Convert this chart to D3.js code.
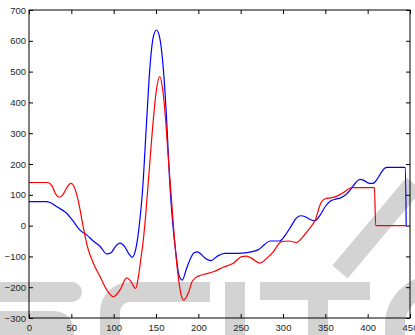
<!DOCTYPE html>
<html>
<head>
<meta charset="utf-8">
<script src="https://cdn.jsdelivr.net/npm/d3@7"></script>
<style>
  html, body { margin: 0; padding: 0; background: #fff; }
  svg { display: block; }
  .tick text { font-family: "Liberation Sans", Arial, sans-serif; font-size: 9.5px; fill: #262626; }
  .tick line { stroke: #000; }
</style>
</head>
<body>
<div id="chart"></div>
<script>
// x positions and values
const blueX = [0, 20, 25, 33, 44.5, 52, 60, 68, 76, 84, 92, 97, 102, 107.5, 113, 118, 122, 125, 128, 131, 134, 139, 143, 147, 150.5, 154, 158, 162.6, 166, 170, 174, 177, 181, 186, 191, 195, 199, 204, 209, 214.6, 222, 231, 245, 261, 271, 278, 284.6, 296, 303, 310, 316, 321, 327, 332, 337.8, 344, 350, 356, 362, 368, 374, 380, 386, 391, 396, 401, 406, 411, 416, 420, 423, 444.5, 445.5];
const blueY = [78, 78, 75, 61, 40, 15, -14, -30, -50, -68, -92, -88, -68, -57, -68, -92, -103, -88, -47, 20, 110, 343, 520, 615, 635, 615, 530, 343, 150, 0, -100, -160, -177, -140, -105, -88, -85, -95, -108, -114, -100, -90, -90, -86, -78, -62, -50, -50, -30, 0, 25, 32, 28, 20, 16, 35, 62, 80, 86, 90, 100, 118, 140, 150, 146, 138, 137, 150, 172, 186, 189, 189, 0];

const redX = [0, 22, 27, 31, 35.5, 40, 45, 49.5, 53, 58, 64, 69, 76, 84, 92, 99.6, 107.5, 115.4, 120, 126, 129, 132, 135, 138, 142, 146.8, 150, 154.5, 158, 161.4, 164, 168, 172, 176, 180, 183, 188, 193, 200, 207, 217.7, 229.5, 241.3, 251, 257, 264, 272.8, 280, 288.5, 298, 307, 316, 323, 330, 338, 345, 350, 356, 363, 370, 377, 381, 408, 409.5, 446];
const redY = [140, 140, 130, 105, 92, 100, 125, 137, 128, 83, -3, -68, -122, -166, -209, -231, -209, -170, -180, -204, -170, -110, -47, 40, 180, 343, 430, 484, 440, 343, 240, 95, -50, -160, -228, -242, -220, -180, -164, -158, -150, -135, -122, -101, -99, -108, -122, -108, -85, -52, -50, -55, -38, -14, 18, 75, 87, 90, 95, 105, 118, 123, 123, 0, 0];

const xTicks = [0, 50, 100, 150, 200, 250, 300, 350, 400, 450];
const yTicks = [-300, -200, -100, 0, 100, 200, 300, 400, 500, 600, 700];

const W = 415, H = 335;
const margin = { top: 10, right: 5, bottom: 17, left: 29 };

const svg = d3.select('#chart').append('svg')
  .attr('width', W).attr('height', H);

// background watermark (light grey letters)
const wm = svg.append('g').attr('fill', '#d3d3d3').attr('stroke', '#d3d3d3');
wm.append('rect').attr('x', -20).attr('y', 282).attr('width', 102).attr('height', 20).attr('rx', 10).attr('stroke', 'none');
wm.append('rect').attr('x', -20).attr('y', 311).attr('width', 94).attr('height', 50).attr('rx', 20).attr('stroke', 'none');
wm.append('path').attr('d', 'M210,292 H130 A20,20 0 0 0 110,312 V345').attr('fill', 'none').attr('stroke-width', 20);
wm.append('rect').attr('x', 225).attr('y', 282).attr('width', 20).attr('height', 60).attr('stroke', 'none');
wm.append('rect').attr('x', 260).attr('y', 282).attr('width', 110).attr('height', 18).attr('stroke', 'none');
wm.append('rect').attr('x', 308).attr('y', 282).attr('width', 20).attr('height', 60).attr('stroke', 'none');
wm.append('path').attr('d', 'M414,184 L340,272').attr('fill', 'none').attr('stroke-width', 20);
wm.append('path').attr('d', 'M395,345 V325 A40,40 0 0 1 435,285').attr('fill', 'none').attr('stroke-width', 20);

const x = d3.scaleLinear().domain([0, 450]).range([margin.left, W - margin.right]);
const y = d3.scaleLinear().domain([-300, 700]).range([H - margin.bottom, margin.top]);

const line = d3.line()
  .x(d => x(d[0]))
  .y(d => y(d[1]))
  .curve(d3.curveMonotoneX);

const plot = svg.append('g');
plot.append('path')
  .datum(blueX.map((v, i) => [v, blueY[i]]))
  .attr('d', line).attr('fill', 'none').attr('stroke', '#0000ff').attr('stroke-width', 1.2);
plot.append('path')
  .datum(redX.map((v, i) => [v, redY[i]]))
  .attr('d', line).attr('fill', 'none').attr('stroke', '#ff0000').attr('stroke-width', 1.2);

// axes with inward ticks on all four sides
const fmt = d => d3.format('d')(d).replace('-', '\u2212');
svg.append('g').attr('transform', `translate(0,${H - margin.bottom})`)
  .call(d3.axisBottom(x).tickValues(xTicks).tickFormat(fmt).tickSizeInner(-4).tickSizeOuter(0).tickPadding(6))
  .call(g => g.select('.domain').remove());
svg.append('g').attr('transform', `translate(0,${margin.top})`)
  .call(d3.axisTop(x).tickValues(xTicks).tickFormat('').tickSizeInner(-4).tickSizeOuter(0))
  .call(g => g.select('.domain').remove());
svg.append('g').attr('transform', `translate(${margin.left},0)`)
  .call(d3.axisLeft(y).tickValues(yTicks).tickFormat(fmt).tickSizeInner(-4).tickSizeOuter(0).tickPadding(3))
  .call(g => g.select('.domain').remove());
svg.append('g').attr('transform', `translate(${W - margin.right},0)`)
  .call(d3.axisRight(y).tickValues(yTicks).tickFormat('').tickSizeInner(-4).tickSizeOuter(0))
  .call(g => g.select('.domain').remove());

svg.append('rect')
  .attr('x', margin.left).attr('y', margin.top)
  .attr('width', W - margin.left - margin.right)
  .attr('height', H - margin.top - margin.bottom)
  .attr('fill', 'none').attr('stroke', '#000').attr('stroke-width', 1);
</script>
</body>
</html>
